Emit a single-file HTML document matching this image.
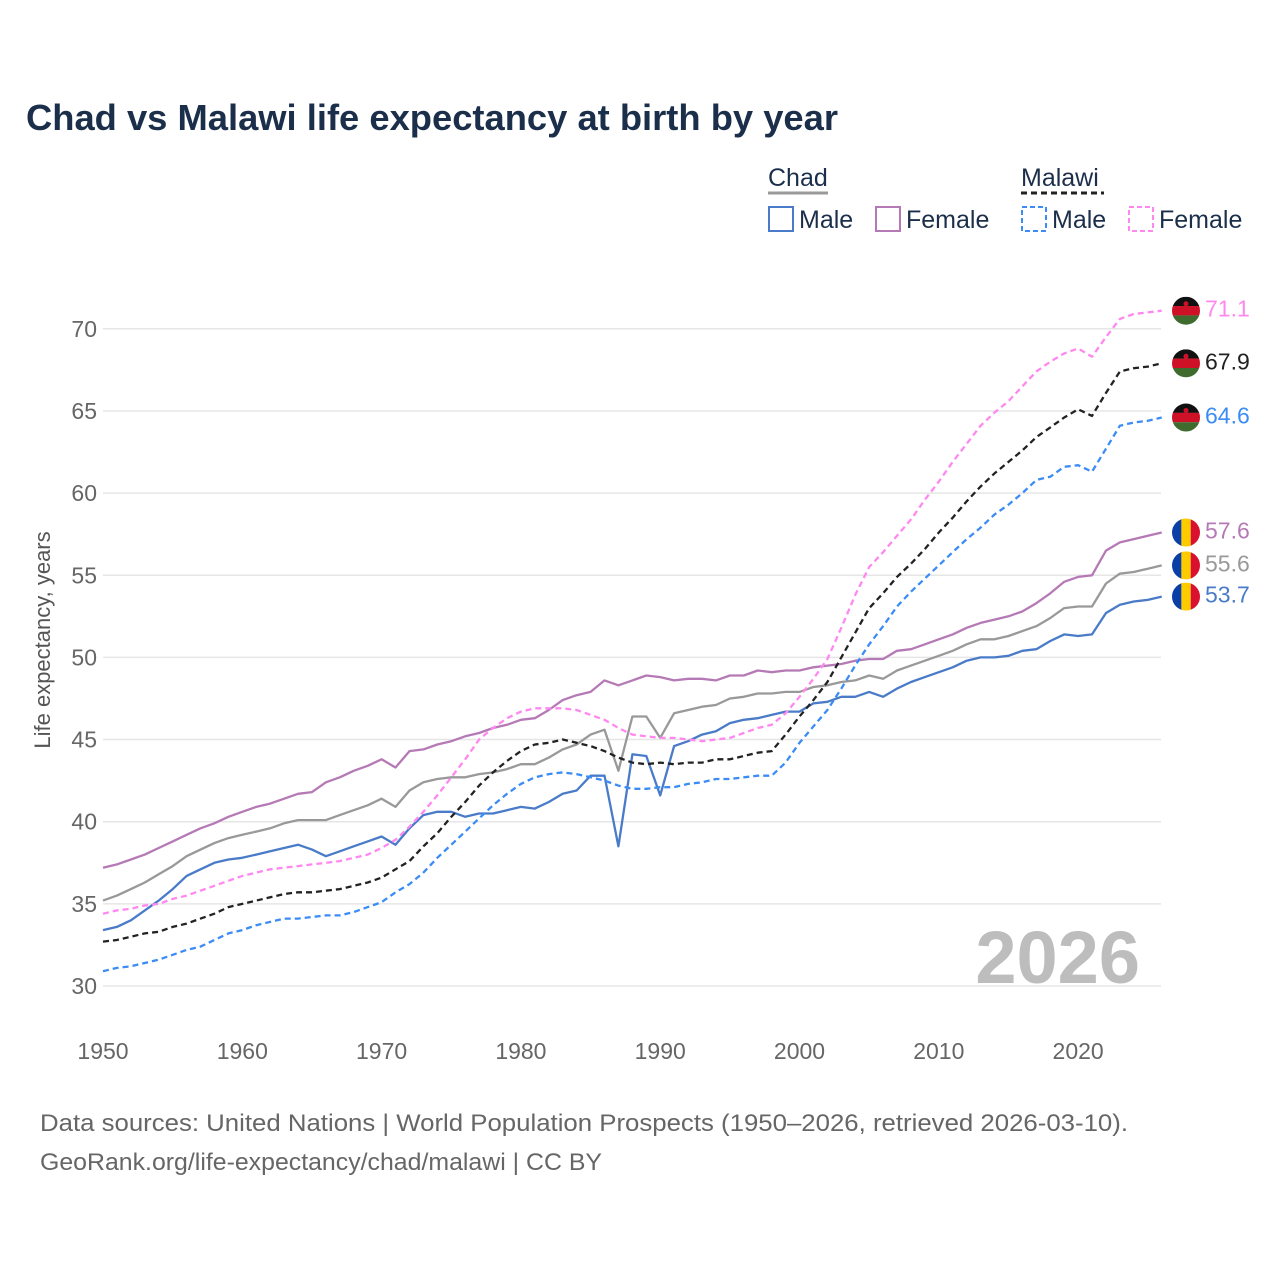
<!DOCTYPE html>
<html><head><meta charset="utf-8"><style>
body{margin:0;background:#fff;font-family:"Liberation Sans",sans-serif;}
svg text{font-family:"Liberation Sans",sans-serif;}
</style></head><body>
<svg width="1280" height="1280" viewBox="0 0 1280 1280" id="chart">
<rect width="1280" height="1280" fill="#fff"/>
<text x="26" y="130" font-size="36" font-weight="bold" fill="#1b2f4b" textLength="812" lengthAdjust="spacingAndGlyphs">Chad vs Malawi life expectancy at birth by year</text>
<g font-size="25" fill="#1b2f4b">
<text x="768" y="186">Chad</text>
<line x1="768" y1="193" x2="828" y2="193" stroke="#999" stroke-width="3"/>
<text x="1021" y="186">Malawi</text>
<line x1="1021" y1="193" x2="1104" y2="193" stroke="#222" stroke-width="3" stroke-dasharray="6,4"/>
<rect x="769" y="207" width="24" height="24" fill="none" stroke="#4a7bc8" stroke-width="2"/>
<text x="799" y="228">Male</text>
<rect x="876" y="207" width="24" height="24" fill="none" stroke="#b57ab5" stroke-width="2"/>
<text x="906" y="228">Female</text>
<rect x="1022" y="207" width="24" height="24" fill="none" stroke="#3b8cf5" stroke-width="2" stroke-dasharray="5,3"/>
<text x="1052" y="228">Male</text>
<rect x="1129" y="207" width="24" height="24" fill="none" stroke="#ff88f0" stroke-width="2" stroke-dasharray="5,3"/>
<text x="1159" y="228">Female</text>
</g>
<g id="grid"></g>
<g id="axes"></g>
<text x="1140" y="983" text-anchor="end" font-size="74" font-weight="bold" fill="#bdbdbd">2026</text>
<g id="series"></g>
<g id="ends"></g>
<text transform="translate(50,640) rotate(-90)" text-anchor="middle" font-size="22" fill="#555">Life expectancy, years</text>
<text x="40" y="1131" font-size="24.5" fill="#666" textLength="1088" lengthAdjust="spacingAndGlyphs">Data sources: United Nations | World Population Prospects (1950–2026, retrieved 2026-03-10).</text>
<text x="40" y="1170" font-size="24.5" fill="#666" textLength="562" lengthAdjust="spacingAndGlyphs">GeoRank.org/life-expectancy/chad/malawi | CC BY</text>
</svg>
<script>
const years = Array.from({length:77},(_,i)=>1950+i);
const yTicks = [30,35,40,45,50,55,60,65,70];
const xTicks = [1950,1960,1970,1980,1990,2000,2010,2020];
const chadMale = [33.4,33.6,34.0,34.6,35.2,35.9,36.7,37.1,37.5,37.7,37.8,38.0,38.2,38.4,38.6,38.3,37.9,38.2,38.5,38.8,39.1,38.6,39.6,40.4,40.6,40.6,40.3,40.5,40.5,40.7,40.9,40.8,41.2,41.7,41.9,42.8,42.8,38.5,44.1,44.0,41.6,44.6,44.9,45.3,45.5,46.0,46.2,46.3,46.5,46.7,46.7,47.2,47.3,47.6,47.6,47.9,47.6,48.1,48.5,48.8,49.1,49.4,49.8,50.0,50.0,50.1,50.4,50.5,51.0,51.4,51.3,51.4,52.7,53.2,53.4,53.5,53.7];
const chadTotal = [35.2,35.5,35.9,36.3,36.8,37.3,37.9,38.3,38.7,39.0,39.2,39.4,39.6,39.9,40.1,40.1,40.1,40.4,40.7,41.0,41.4,40.9,41.9,42.4,42.6,42.7,42.7,42.9,43.0,43.2,43.5,43.5,43.9,44.4,44.7,45.3,45.6,43.1,46.4,46.4,45.1,46.6,46.8,47.0,47.1,47.5,47.6,47.8,47.8,47.9,47.9,48.2,48.3,48.5,48.6,48.9,48.7,49.2,49.5,49.8,50.1,50.4,50.8,51.1,51.1,51.3,51.6,51.9,52.4,53.0,53.1,53.1,54.5,55.1,55.2,55.4,55.6];
const chadFemale = [37.2,37.4,37.7,38.0,38.4,38.8,39.2,39.6,39.9,40.3,40.6,40.9,41.1,41.4,41.7,41.8,42.4,42.7,43.1,43.4,43.8,43.3,44.3,44.4,44.7,44.9,45.2,45.4,45.7,45.9,46.2,46.3,46.8,47.4,47.7,47.9,48.6,48.3,48.6,48.9,48.8,48.6,48.7,48.7,48.6,48.9,48.9,49.2,49.1,49.2,49.2,49.4,49.5,49.6,49.8,49.9,49.9,50.4,50.5,50.8,51.1,51.4,51.8,52.1,52.3,52.5,52.8,53.3,53.9,54.6,54.9,55.0,56.5,57.0,57.2,57.4,57.6];
const malawiTotal = [32.7,32.8,33.0,33.2,33.3,33.6,33.8,34.1,34.4,34.8,35.0,35.2,35.4,35.6,35.7,35.7,35.8,35.9,36.1,36.3,36.6,37.1,37.6,38.5,39.3,40.3,41.2,42.2,43.0,43.7,44.3,44.7,44.8,45.0,44.8,44.6,44.3,43.9,43.6,43.5,43.6,43.5,43.6,43.6,43.8,43.8,44.0,44.2,44.3,45.3,46.4,47.4,48.5,50.0,51.5,53.0,53.9,54.9,55.7,56.6,57.6,58.5,59.5,60.4,61.2,61.9,62.6,63.4,64.0,64.6,65.1,64.7,66.1,67.4,67.6,67.7,67.9];
const malawiMale = [30.9,31.1,31.2,31.4,31.6,31.9,32.2,32.4,32.8,33.2,33.4,33.7,33.9,34.1,34.1,34.2,34.3,34.3,34.5,34.8,35.1,35.7,36.2,36.9,37.8,38.6,39.4,40.2,41.0,41.7,42.3,42.7,42.9,43.0,42.9,42.7,42.5,42.2,42.0,42.0,42.1,42.1,42.3,42.4,42.6,42.6,42.7,42.8,42.8,43.6,44.8,45.8,46.8,48.1,49.5,50.8,51.9,53.1,54.0,54.8,55.6,56.4,57.2,57.9,58.7,59.3,60.0,60.8,61.0,61.6,61.7,61.3,62.7,64.1,64.3,64.4,64.6];
const malawiFemale = [34.4,34.6,34.7,34.9,35.0,35.3,35.5,35.8,36.1,36.4,36.7,36.9,37.1,37.2,37.3,37.4,37.5,37.6,37.8,38.0,38.4,38.9,39.7,40.6,41.6,42.7,43.8,45.0,45.7,46.3,46.7,46.9,46.9,46.9,46.8,46.5,46.2,45.7,45.3,45.2,45.1,45.1,45.0,44.9,45.0,45.1,45.4,45.7,45.9,46.6,47.6,48.7,49.9,51.8,53.8,55.5,56.4,57.4,58.4,59.6,60.7,61.9,63.0,64.1,64.9,65.6,66.5,67.4,68.0,68.5,68.8,68.3,69.5,70.6,70.9,71.0,71.1];

const NS="http://www.w3.org/2000/svg";
const X0=103,X1=1161.7,Y0=986,YPER=16.43;
const xs=y=>X0+(y-1950)*(X1-X0)/76;
const ys=v=>Y0-(v-30)*YPER;
function mk(tag,attrs,parent){const e=document.createElementNS(NS,tag);for(const k in attrs)e.setAttribute(k,attrs[k]);parent.appendChild(e);return e;}
const grid=document.getElementById('grid'),axes=document.getElementById('axes');
yTicks.forEach(t=>{
  const l=mk('line',{x1:X0,x2:1161,y1:ys(t),y2:ys(t),stroke:'#e6e6e6','stroke-width':1.5},grid);
  
  
  const tx=mk('text',{x:97,y:ys(t)+8,'text-anchor':'end','font-size':23,fill:'#666'},axes);
  tx.textContent=t;
  
  
});
xTicks.forEach(t=>{
  const tx=mk('text',{x:xs(t),y:1059,'text-anchor':'middle','font-size':23,fill:'#666'},axes);
  tx.textContent=t;
  
  
});
const series=[
 {name:'chad-male',d:chadMale,c:'#4a7bc8',dash:null,flag:'chad',lc:'#4a7bc8'},
 {name:'chad-total',d:chadTotal,c:'#999999',dash:null,flag:'chad',lc:'#999'},
 {name:'chad-female',d:chadFemale,c:'#b57ab5',dash:null,flag:'chad',lc:'#b57ab5'},
 {name:'malawi-male',d:malawiMale,c:'#3b8cf5',dash:'6,4',flag:'malawi',lc:'#3b8cf5'},
 {name:'malawi-total',d:malawiTotal,c:'#222222',dash:'6,4',flag:'malawi',lc:'#222'},
 {name:'malawi-female',d:malawiFemale,c:'#ff88f0',dash:'6,4',flag:'malawi',lc:'#ff88f0'}
];
const sg=document.getElementById('series'),eg=document.getElementById('ends');
series.forEach(s=>{
  const pts=s.d.map((v,i)=>xs(years[i]).toFixed(1)+','+ys(v).toFixed(1)).join(' ');
  const a={points:pts,fill:'none',stroke:s.c,'stroke-width':2.3,'stroke-linejoin':'round'};
  if(s.dash)a['stroke-dasharray']=s.dash;
  const pl=mk('polyline',a,sg);
  
  
  const last=s.d[s.d.length-1], cy=ys(last), cx=1186;
  const g=mk('g',{},eg);
  
  
  const cid='clip-'+s.name;
  const cp=mk('clipPath',{id:cid},g);mk('circle',{cx:cx,cy:cy,r:14},cp);
  const fg=mk('g',{'clip-path':'url(#'+cid+')'},g);
  if(s.flag==='chad'){
    mk('rect',{x:cx-14,y:cy-14,width:10,height:28,fill:'#0a3fa8'},fg);
    mk('rect',{x:cx-4.7,y:cy-14,width:9.4,height:28,fill:'#fecb00'},fg);
    mk('rect',{x:cx+4.7,y:cy-14,width:10,height:28,fill:'#d9102e'},fg);
  }else{
    mk('rect',{x:cx-14,y:cy-14,width:28,height:9.4,fill:'#111'},fg);
    mk('rect',{x:cx-14,y:cy-4.7,width:28,height:9.4,fill:'#ce1126'},fg);
    mk('rect',{x:cx-14,y:cy+4.7,width:28,height:10,fill:'#3f6b2f'},fg);
    mk('circle',{cx:cx,cy:cy-7,r:2.5,fill:'#ce1126'},fg);
  }
  const t=mk('text',{x:1205,y:cy+6,'font-size':23,fill:s.lc},g);
  t.textContent=last.toFixed(1);
});
</script>
</body></html>
